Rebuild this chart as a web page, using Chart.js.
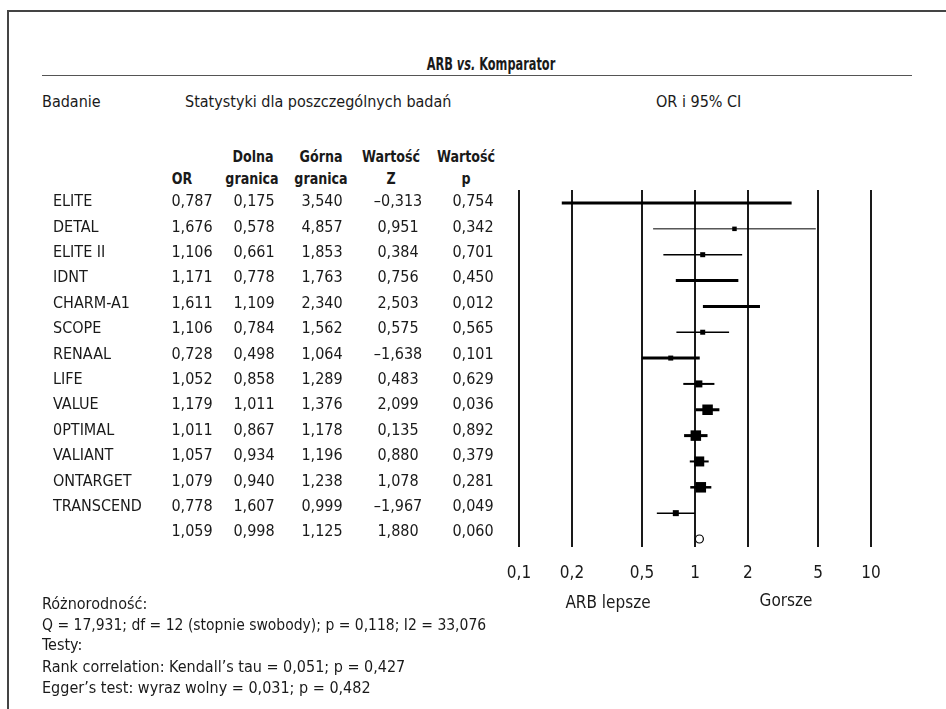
<!DOCTYPE html>
<html>
<head>
<meta charset="utf-8">
<script src="https://cdn.jsdelivr.net/npm/chart.js@4.4.0/dist/chart.umd.min.js"></script>
<style>
  body { margin: 0; background: #fff; }
  #wrap { position: relative; width: 946px; height: 709px; overflow: hidden; background: #fff;
          font-family: "DejaVu Sans Condensed", "Liberation Sans Narrow", sans-serif; color: #1a1a1a; }
  #frame { position: absolute; left: 7px; top: 10px; width: 945px; height: 705px;
           border-top: 2px solid #444; border-left: 2px solid #444; }
  #rule { position: absolute; left: 42px; top: 75px; width: 870px; height: 0; border-top: 1.5px solid #555; }
  .t { position: absolute; white-space: nowrap; font-size: 16px; line-height: 20px; }
  .b { font-weight: bold; }
  .c { text-align: center; width: 120px; }
  .h { transform: scaleX(0.88); }
  #chart { position: absolute; left: 0; top: 0; }
</style>
</head>
<body>
<div id="wrap">
  <div id="frame"></div>
  <div class="t b" style="left:291px;width:400px;text-align:center;top:54px;font-size:18px;transform:scaleX(0.7);">ARB <i>vs.</i> Komparator</div>
  <div id="rule"></div>
  <div class="t" style="left:42px;top:92px;">Badanie</div>
  <div class="t" style="left:185px;top:92px;">Statystyki dla poszczególnych badań</div>
  <div class="t" style="left:656px;top:92px;">OR i 95% CI</div>

  <div class="t b c h" style="left:193px;top:147px;">Dolna</div>
  <div class="t b c h" style="left:261px;top:147px;">Górna</div>
  <div class="t b c h" style="left:331px;top:147px;">Wartość</div>
  <div class="t b c h" style="left:406px;top:147px;">Wartość</div>
  <div class="t b c h" style="left:122px;top:169px;">OR</div>
  <div class="t b c h" style="left:192px;top:169px;">granica</div>
  <div class="t b c h" style="left:261px;top:169px;">granica</div>
  <div class="t b c h" style="left:331px;top:169px;">Z</div>
  <div class="t b c h" style="left:406px;top:169px;">p</div>

  <canvas id="chart" width="946" height="709"></canvas>

  <div class="t c" style="left:548px;top:592px;font-size:17px;">ARB lepsze</div>
  <div class="t c" style="left:726px;top:590px;font-size:17px;">Gorsze</div>

  <div class="t" style="left:42px;top:594px;">Różnorodność:</div>
  <div class="t" style="left:42px;top:615px;font-size:15.5px;">Q = 17,931; df = 12 (stopnie swobody); p = 0,118; I2 = 33,076</div>
  <div class="t" style="left:42px;top:635px;">Testy:</div>
  <div class="t" style="left:42px;top:657px;">Rank correlation: Kendall’s tau = 0,051; p = 0,427</div>
  <div class="t" style="left:42px;top:678px;">Egger’s test: wyraz wolny = 0,031; p = 0,482</div>
</div>

<script>
const studies = ["ELITE", "DETAL", "ELITE II", "IDNT", "CHARM-A1", "SCOPE", "RENAAL", "LIFE",
  "VALUE", "0PTIMAL", "VALIANT", "ONTARGET", "TRANSCEND", ""];
const oddsRatio = [0.787, 1.676, 1.106, 1.171, 1.611, 1.106, 0.728, 1.052, 1.179, 1.011, 1.057, 1.079, 0.778, 1.059];
const lowerCI = [0.175, 0.578, 0.661, 0.778, 1.109, 0.784, 0.498, 0.858, 1.011, 0.867, 0.934, 0.940, 1.607, 0.998];
const upperCI = [3.540, 4.857, 1.853, 1.763, 2.340, 1.562, 1.064, 1.289, 1.376, 1.178, 1.196, 1.238, 0.999, 1.125];
const zValues = [-0.313, 0.951, 0.384, 0.756, 2.503, 0.575, -1.638, 0.483, 2.099, 0.135, 0.880, 1.078, -1.967, 1.880];
const pValues = [0.754, 0.342, 0.701, 0.450, 0.012, 0.565, 0.101, 0.629, 0.036, 0.892, 0.379, 0.281, 0.049, 0.060];

// the table prints 1,607 for TRANSCEND, the plotted whisker starts near 0,607
const plotLowerCI = lowerCI.slice();
plotLowerCI[12] = 0.607;

const tickValues = [0.1, 0.2, 0.5, 1, 2, 5, 10];
const tickLabels = ["0,1", "0,2", "0,5", "1", "2", "5", "10"];

// look of each study row (marker side in px, whisker width)
const squareSide = [0, 4.5, 5, 0, 0, 5, 5, 7, 10.5, 10.5, 10, 10.5, 6];
const whiskerWidth = [3, 1, 1.5, 3, 3, 1.5, 3, 2, 3, 3, 2, 2.5, 1.5];

const FONT = '"DejaVu Sans Condensed", "Liberation Sans Narrow", sans-serif';
const nStudies = 13;
const textRowStep = 25.4; // table rows sit a bit tighter than the plot rows

function fmt(v) {
  const s = Math.abs(v).toFixed(3).replace(".", ",");
  return v < 0 ? "\u2013" + s : s;
}

const tableText = {
  id: "tableText",
  afterDraw(chart) {
    const ctx = chart.ctx;
    const top = chart.scales.y.getPixelForValue(0) - 1;
    ctx.save();
    ctx.font = "16px " + FONT;
    ctx.fillStyle = "#1a1a1a";
    ctx.textBaseline = "middle";
    studies.forEach((name, i) => {
      const py = top + i * textRowStep;
      ctx.textAlign = "left";
      ctx.fillText(name, 53, py);
      ctx.textAlign = "center";
      ctx.fillText(fmt(oddsRatio[i]), 192, py);
      ctx.fillText(fmt(lowerCI[i]), 254, py);
      ctx.fillText(fmt(upperCI[i]), 322, py);
      ctx.fillText(fmt(zValues[i]), 398, py);
      ctx.fillText(fmt(pValues[i]), 473, py);
    });
    ctx.restore();
  }
};

const datasets = [];

datasets.push({
  label: "OR",
  data: oddsRatio.slice(0, nStudies).map((v, i) => ({ x: v, y: i })),
  pointStyle: "rect",
  pointRadius: (c) => squareSide[c.dataIndex] / Math.SQRT2,
  backgroundColor: "#000",
  borderWidth: 0,
  showLine: false
});

datasets.push({
  label: "summary",
  data: [{ x: oddsRatio[nStudies], y: nStudies }],
  pointStyle: "circle",
  pointRadius: 4,
  backgroundColor: "#fff",
  borderColor: "#000",
  borderWidth: 1.2,
  showLine: false
});

for (let i = 0; i < nStudies; i++) {
  datasets.push({
    label: studies[i],
    data: [{ x: plotLowerCI[i], y: i }, { x: upperCI[i], y: i }],
    showLine: true,
    borderColor: "#000",
    borderWidth: whiskerWidth[i],
    borderCapStyle: "butt",
    pointRadius: 0
  });
}

new Chart(document.getElementById("chart"), {
  type: "scatter",
  data: { datasets },
  options: {
    responsive: false,
    animation: false,
    layout: { padding: { left: 519, right: 75, top: 190, bottom: 122 } },
    plugins: { legend: { display: false }, tooltip: { enabled: false } },
    scales: {
      x: {
        type: "logarithmic",
        min: 0.1,
        max: 10,
        afterBuildTicks: (s) => { s.ticks = tickValues.map((v) => ({ value: v })); },
        afterFit: (s) => { s.height = 40; },
        border: { display: false },
        grid: { color: "#1a1a1a", lineWidth: 2, drawTicks: false },
        ticks: {
          padding: 16,
          color: "#1a1a1a",
          autoSkip: false,
          maxRotation: 0,
          font: { family: FONT, size: 17 },
          callback: (v, i) => tickLabels[i]
        }
      },
      y: { type: "linear", min: -0.503, max: 13.31, reverse: true, display: false }
    }
  },
  plugins: [tableText]
});
</script>
</body>
</html>
